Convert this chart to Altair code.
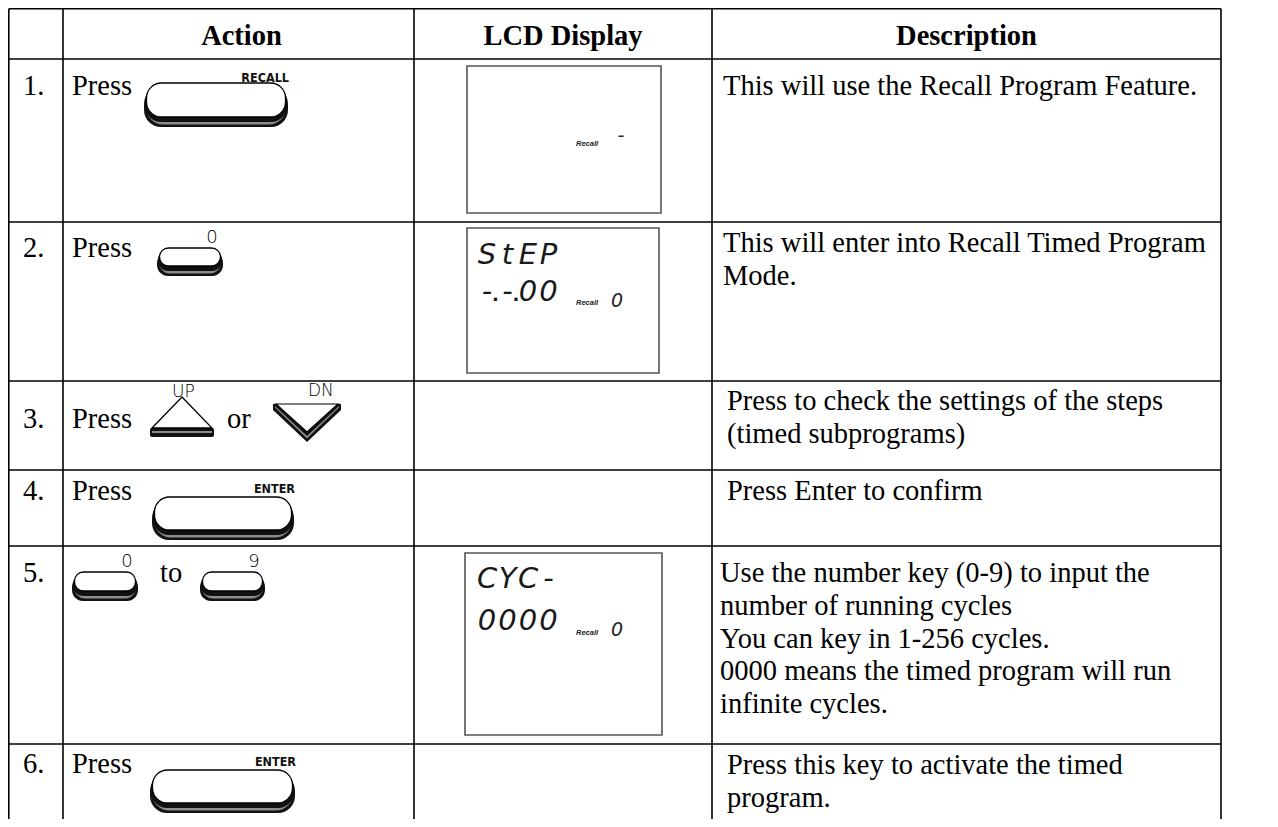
import altair as alt
import pandas as pd

# ---------------- content ----------------
HEADERS = ["Action", "LCD Display", "Description"]
STEP_NUMBERS = ["1.", "2.", "3.", "4.", "5.", "6."]
ACTION_WORDS = [["Press"], ["Press"], ["Press", "or"], ["Press"], ["to"], ["Press"]]
DESCRIPTIONS = [
    ["This will use the Recall Program Feature."],
    ["This will enter into Recall Timed Program", "Mode."],
    ["Press to check the settings of the steps", "(timed subprograms)"],
    ["Press Enter to confirm"],
    ["Use the number key (0-9) to input the", "number of running cycles",
     "You can key in 1-256 cycles.", "0000 means the timed program will run",
     "infinite cycles."],
    ["Press this key to activate the timed", "program."],
]
BIG_KEY_LABELS = ["RECALL", "ENTER", "ENTER"]
SMALL_KEY_LABELS = ["0", "0", "9"]
ARROW_KEY_LABELS = ["UP", "DN"]
LCD_DIGIT_LINES = [[], ["StEP", "-.-.00"], ["CYC-", "0000"]]
LCD_INDICATORS = ["Recall", "Recall", "Recall"]
LCD_SMALL_DIGITS = ["-", "0", "0"]

# ---------------- layout (page geometry) ----------------
COL_EDGES = [8.8, 63, 414, 712, 1221]
ROW_EDGES = [8.8, 59, 222, 381, 470, 546, 744, 840]
HEADER_BASELINE = 36
LINE_STEP = 32.8
NUMBER_X = 23
ACTION_WORD_X = [[72], [72], [72, 227], [72], [160], [72]]
ACTION_BASELINE = [36, 35, 47, 30, 36, 29]
DESC_BASELINE = [36, 30, 29, 30, 36, 30]
DESC_X = [723, 723, 727, 727, 720, 727]
BIG_KEY_BOX = [(144, 288, 83, 127), (152, 294, 497, 540), (150, 295, 770, 813)]
BIG_KEY_LABEL_BASE = [82, 493, 766]
SMALL_KEY_BOX = [(157, 223, 248, 276), (72, 138, 572, 601), (200, 265, 572, 601)]
UP_BAND = (150, 214, 428, 437)
UP_TRI_X = [152, 182, 212]
UP_TRI_TOP = [428, 397, 428]
DN_X = [273, 307, 341]
DN_TOP = 404
ARROW_LABEL_POS = [(172, 397), (308, 396)]
LCD_BOX = [(467, 661, 66, 213), (467, 659, 228, 373), (465, 662, 553, 735)]
LCD_LINE_BASE = [[], [264, 301], [588, 630]]
LCD_CELL_CX0 = 487
LCD_CELL_PITCH = 20.5
LCD_DOT_DX = 8.5
LCD_IND_X = 576
LCD_IND_BASE = [146, 305, 635]
LCD_SMALL_X = [621, 617, 617]
LCD_SMALL_BASE = [142, 307, 636]

W, H = 1262, 811
XS = alt.Scale(domain=[8, 8 + W], nice=False, zero=False)
YS = alt.Scale(domain=[8, 8 + H], nice=False, zero=False, reverse=True)


def X(f):
    return alt.X(f, type="quantitative", scale=XS, axis=None)


def Y(f):
    return alt.Y(f, type="quantitative", scale=YS, axis=None)


def rect_enc(ch):
    return ch.encode(x=X("x"), x2=alt.X2("x2"), y=Y("y"), y2=alt.Y2("y2"))


def text_enc(ch):
    return ch.encode(x=X("x"), y=Y("y"), text="text:N")


def area_enc(ch):
    return ch.encode(x=X("x"), y=Y("y"), y2=alt.Y2("y2"), detail="id:N")


layers = []

# ---------------- grid ----------------
grid = []
for yy in ROW_EDGES:
    grid.append(dict(x=COL_EDGES[0], x2=COL_EDGES[-1], y=yy, y2=yy))
for xx in COL_EDGES:
    grid.append(dict(x=xx, x2=xx, y=ROW_EDGES[0], y2=ROW_EDGES[-1]))
layers.append(rect_enc(alt.Chart(pd.DataFrame(grid)).mark_rule(color="black", strokeWidth=1.6)))

# ---------------- headers ----------------
hdr = pd.DataFrame([
    dict(x=(COL_EDGES[i + 1] + COL_EDGES[i + 2]) / 2 + (3 if i == 0 else 0),
         y=ROW_EDGES[0] + HEADER_BASELINE, text=t)
    for i, t in enumerate(HEADERS)
])
layers.append(text_enc(alt.Chart(hdr).mark_text(
    align="center", baseline="alphabetic", font="Liberation Serif",
    fontSize=28.5, fontWeight="bold", color="black")))

# ---------------- body serif texts ----------------
body = []
for r in range(len(STEP_NUMBERS)):
    top = ROW_EDGES[r + 1]
    base = top + ACTION_BASELINE[r]
    body.append(dict(x=NUMBER_X, y=base, text=STEP_NUMBERS[r]))
    for w, wx in zip(ACTION_WORDS[r], ACTION_WORD_X[r]):
        body.append(dict(x=wx, y=base, text=w))
    for k, line in enumerate(DESCRIPTIONS[r]):
        body.append(dict(x=DESC_X[r], y=top + DESC_BASELINE[r] + k * LINE_STEP, text=line))
layers.append(text_enc(alt.Chart(pd.DataFrame(body)).mark_text(
    align="left", baseline="alphabetic", font="Liberation Serif",
    fontSize=28.5, color="black")))


# ---------------- keys ----------------
def key_layers(boxes, rb, rf):
    out = []
    specs = [
        (lambda l, r, t, b: dict(x=l, x2=r, y=t + 4, y2=b), "#111111", rb, None),
        (lambda l, r, t, b: dict(x=l + 2, x2=r - 2, y=t + 3, y2=b - 2.5), "#8c8c8c", rb, None),
        (lambda l, r, t, b: dict(x=l + 1, x2=r - 1, y=t + 2, y2=b - 5), "#111111", rb - 1, None),
        (lambda l, r, t, b: dict(x=l + 2.5, x2=r - 2.5, y=t, y2=b - 10), "white", rf, "black"),
    ]
    for fn, fill, rad, stroke in specs:
        df = pd.DataFrame([fn(*bx) for bx in boxes])
        kw = dict(fill=fill, cornerRadius=rad)
        if stroke:
            kw.update(stroke=stroke, strokeWidth=1.3)
        out.append(rect_enc(alt.Chart(df).mark_rect(**kw)))
    return out


layers += key_layers(BIG_KEY_BOX, 17, 15)
layers += key_layers(SMALL_KEY_BOX, 11, 9)

big_lab = pd.DataFrame([dict(x=bx[1] + 1, y=yb, text=t)
                        for bx, yb, t in zip(BIG_KEY_BOX, BIG_KEY_LABEL_BASE, BIG_KEY_LABELS)])
layers.append(text_enc(alt.Chart(big_lab).mark_text(
    align="right", baseline="alphabetic",
    font="Liberation Sans Narrow, DejaVu Sans Condensed, Liberation Sans",
    fontSize=12.5, fontWeight="bold", color="#111111")))

small_lab = pd.DataFrame([dict(x=bx[1] - 11, y=bx[2] - 5, text=t)
                          for bx, t in zip(SMALL_KEY_BOX, SMALL_KEY_LABELS)])
layers.append(text_enc(alt.Chart(small_lab).mark_text(
    align="center", baseline="alphabetic", font="DejaVu Sans",
    fontSize=18, fontWeight=200, color="black")))

# ---------------- arrow keys ----------------
l, r, t, b = UP_BAND
layers.append(rect_enc(alt.Chart(pd.DataFrame([dict(x=l, x2=r, y=t, y2=b)])).mark_rect(
    fill="#111111", cornerRadius=2)))
layers.append(rect_enc(alt.Chart(pd.DataFrame([dict(x=l + 2, x2=r - 2, y=t + 3, y2=t + 5)])).mark_rect(
    fill="#8c8c8c")))
up_tri = pd.DataFrame([dict(id="up", x=xx, y=yt, y2=UP_TRI_TOP[0])
                       for xx, yt in zip(UP_TRI_X, UP_TRI_TOP)])
layers.append(area_enc(alt.Chart(up_tri).mark_area(
    fill="white", stroke="black", strokeWidth=1.3, strokeJoin="miter")))

dn_specs = [
    (0, (6, 38, 6), "#111111", None),
    (2, (3.5, 34.5, 3.5), "#8c8c8c", None),
    (2, (2, 32, 2), "#111111", None),
    (3, (0, 28, 0), "white", "black"),
]
for inset, drops, fill, stroke in dn_specs:
    xs = [DN_X[0] + inset, DN_X[1], DN_X[2] - inset]
    df = pd.DataFrame([dict(id="dn", x=xx, y=DN_TOP, y2=DN_TOP + d) for xx, d in zip(xs, drops)])
    kw = dict(fill=fill)
    if stroke:
        kw.update(stroke=stroke, strokeWidth=1.2)
    layers.append(area_enc(alt.Chart(df).mark_area(**kw)))

arrow_lab = pd.DataFrame([dict(x=p[0], y=p[1], text=t) for p, t in zip(ARROW_LABEL_POS, ARROW_KEY_LABELS)])
layers.append(text_enc(alt.Chart(arrow_lab).mark_text(
    align="left", baseline="alphabetic", font="DejaVu Sans",
    fontSize=17, fontWeight=200, color="black")))

# ---------------- LCD displays ----------------
lcd = pd.DataFrame([dict(x=a, x2=b_, y=c, y2=d) for a, b_, c, d in LCD_BOX])
layers.append(rect_enc(alt.Chart(lcd).mark_rect(fill="white", stroke="#555555", strokeWidth=1.6)))

cells, dots = [], []
for i, lines in enumerate(LCD_DIGIT_LINES):
    for line, base in zip(lines, LCD_LINE_BASE[i]):
        k = -1
        for ch in line:
            if ch == ".":
                dots.append(dict(x=LCD_CELL_CX0 + k * LCD_CELL_PITCH + LCD_DOT_DX, y=base, text="."))
            else:
                k += 1
                cells.append(dict(x=LCD_CELL_CX0 + k * LCD_CELL_PITCH, y=base, text=ch))
layers.append(text_enc(alt.Chart(pd.DataFrame(cells)).mark_text(
    align="center", baseline="alphabetic", font="DejaVu Sans", fontStyle="italic",
    fontSize=29, fontWeight=200, color="#1a1a1a")))
layers.append(text_enc(alt.Chart(pd.DataFrame(dots)).mark_text(
    align="center", baseline="alphabetic", font="DejaVu Sans",
    fontSize=18, fontWeight="bold", color="#1a1a1a")))

ind = pd.DataFrame([dict(x=LCD_IND_X, y=yb, text=t) for yb, t in zip(LCD_IND_BASE, LCD_INDICATORS)])
layers.append(text_enc(alt.Chart(ind).mark_text(
    align="left", baseline="alphabetic", font="Liberation Sans", fontStyle="italic",
    fontSize=7.5, fontWeight="bold", color="#222222")))

sd = pd.DataFrame([dict(x=xx, y=yb, text=t) for xx, yb, t in zip(LCD_SMALL_X, LCD_SMALL_BASE, LCD_SMALL_DIGITS)])
layers.append(text_enc(alt.Chart(sd).mark_text(
    align="center", baseline="alphabetic", font="DejaVu Sans", fontStyle="italic",
    fontSize=19, fontWeight=200, color="#222222")))

chart = alt.layer(*layers).properties(
    width=W, height=H, padding=0, autosize="none", background="white"
).configure_view(stroke=None)

chart.save("out.html", embed_options={"renderer": "svg", "actions": False})
